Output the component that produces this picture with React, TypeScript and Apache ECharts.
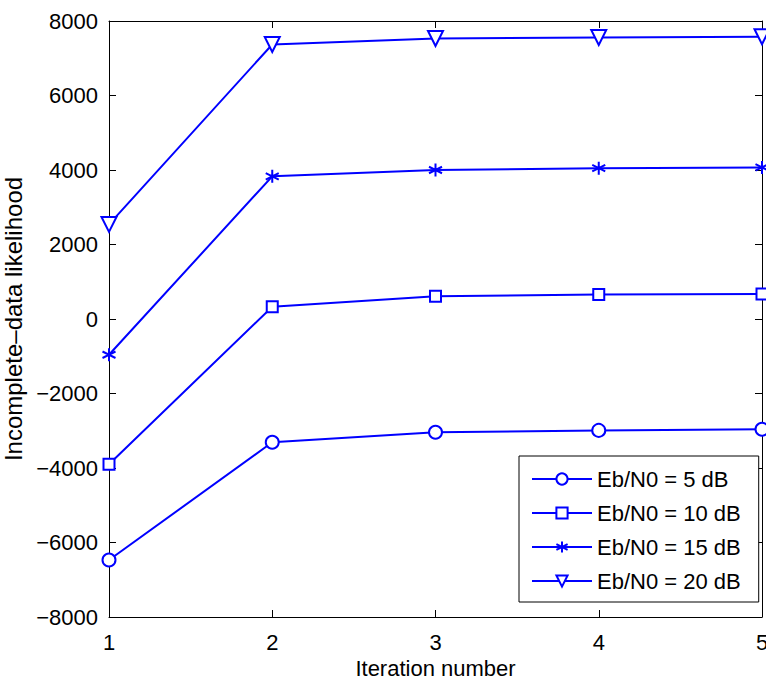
import React, { useEffect, useRef } from "react";
import * as echarts from "echarts";

const iterations = [1, 2, 3, 4, 5];
const seriesNames = ["Eb/N0 = 5 dB", "Eb/N0 = 10 dB", "Eb/N0 = 15 dB", "Eb/N0 = 20 dB"];
const snr5 = [-6470, -3310, -3040, -2990, -2960];
const snr10 = [-3900, 330, 610, 660, 670];
const snr15 = [-960, 3830, 4000, 4050, 4070];
const snr20 = [2540, 7370, 7530, 7560, 7580];
const yTicks = { min: -8000, max: 8000, interval: 2000 };

const BLUE = "#0000ff";
const FONT = "'Liberation Sans', Arial, Helvetica, sans-serif";

const ASTERISK = "path://M0,-1L0,1M-0.87,-0.5L0.87,0.5M-0.87,0.5L0.87,-0.5";
const TRI_DOWN = "path://M-1,-0.8L1,-0.8L0,0.95Z";

export default function App() {
  const ref = useRef<HTMLDivElement>(null);
  useEffect(() => {
    if (!ref.current) return;
    const chart = echarts.init(ref.current, null, { renderer: "svg" });
    const values = [snr5, snr10, snr15, snr20];
    const symbols = ["circle", "rect", ASTERISK, TRI_DOWN];
    const sizes = [13, 11, 13, 15];
    const minus = (v: number) => String(v).replace("-", "\u2212");
    const axisLine = { show: true, onZero: false, lineStyle: { color: "#000", width: 1 } };
    const tick = { show: true, inside: true, length: 7, lineStyle: { color: "#000" } };
    chart.setOption({
      animation: false,
      backgroundColor: "#fff",
      textStyle: { fontFamily: FONT },
      grid: { left: 109, top: 21, right: 4, bottom: 63, containLabel: false, outerBoundsMode: "none" },
      legend: {
        orient: "vertical",
        left: 519,
        top: 456,
        itemWidth: 60,
        itemHeight: 14,
        itemGap: 12,
        padding: [12, 18, 10, 12],
        borderColor: "#000",
        borderWidth: 1,
        backgroundColor: "#fff",
        textStyle: { fontSize: 22, color: "#000", fontFamily: FONT },
        data: seriesNames,
      },
      xAxis: [
        {
          type: "value",
          min: 1,
          max: 5,
          interval: 1,
          position: "bottom",
          name: "Iteration number",
          nameLocation: "middle",
          nameGap: 37,
          nameTextStyle: { fontSize: 22, color: "#000", fontFamily: FONT },
          axisLine,
          axisTick: tick,
          splitLine: { show: false },
          axisLabel: { fontSize: 22, color: "#000", margin: 14, fontFamily: FONT },
        },
        {
          type: "value",
          min: 1,
          max: 5,
          interval: 1,
          position: "top",
          axisLine,
          axisTick: tick,
          splitLine: { show: false },
          axisLabel: { show: false },
        },
      ],
      yAxis: [
        {
          type: "value",
          min: yTicks.min,
          max: yTicks.max,
          interval: yTicks.interval,
          position: "left",
          name: "Incomplete\u2013data likelihood",
          nameLocation: "middle",
          nameGap: 75,
          nameTextStyle: { fontSize: 24, color: "#000", fontFamily: FONT },
          axisLine,
          axisTick: tick,
          splitLine: { show: false },
          axisLabel: { fontSize: 22, color: "#000", margin: 11, fontFamily: FONT, formatter: minus },
        },
        {
          type: "value",
          min: yTicks.min,
          max: yTicks.max,
          interval: yTicks.interval,
          position: "right",
          axisLine,
          axisTick: tick,
          splitLine: { show: false },
          axisLabel: { show: false },
        },
      ],
      series: values.map((vals, i) => ({
        name: seriesNames[i],
        type: "line",
        xAxisIndex: 0,
        yAxisIndex: 0,
        data: iterations.map((x, j) => [x, vals[j]]),
        symbol: symbols[i],
        symbolSize: sizes[i],
        showAllSymbol: true,
        clip: false,
        lineStyle: { color: BLUE, width: 2 },
        itemStyle: { color: i === 2 ? BLUE : "#fff", borderColor: BLUE, borderWidth: 2 },
        emphasis: { disabled: true },
        z: 3,
      })),
    });
    return () => chart.dispose();
  }, []);
  return (
    <div
      ref={ref}
      style={{ position: "fixed", left: 0, top: 0, width: 766, height: 680 }}
    />
  );
}
